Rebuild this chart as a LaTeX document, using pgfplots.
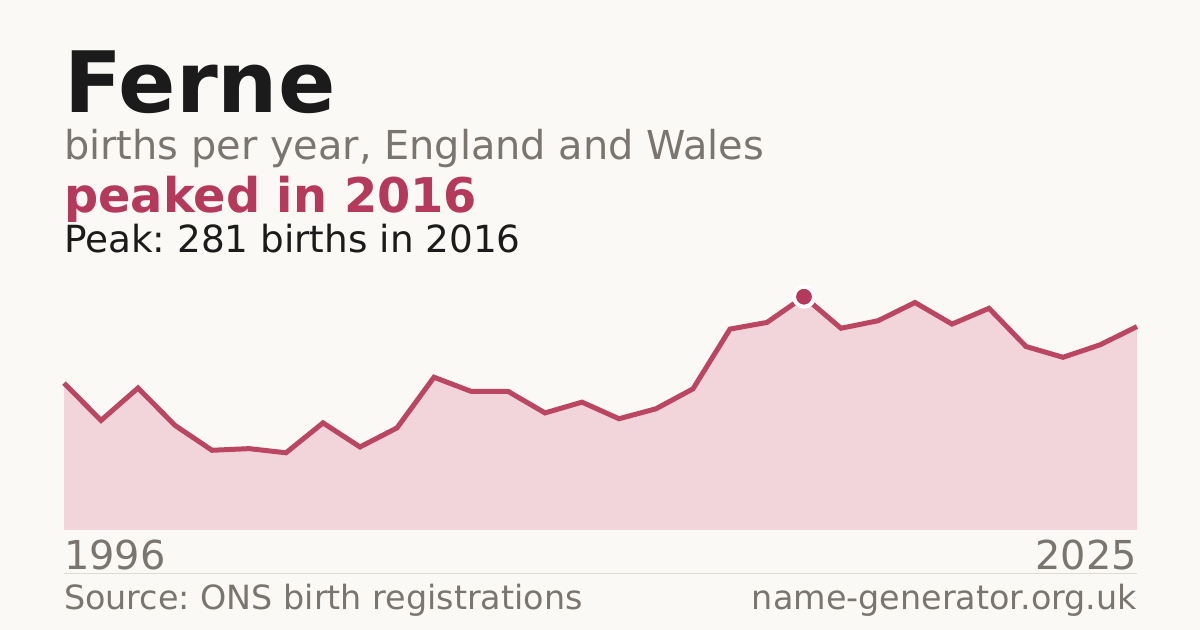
\documentclass[border=0pt]{standalone}
\usepackage{fontspec}
\setmainfont{DejaVu Sans}
\usepackage{pgfplots}
\pgfplotsset{compat=1.18}
\frenchspacing

\definecolor{bg}{HTML}{FAF9F5}
\definecolor{ink}{HTML}{1B1B1B}
\definecolor{muted}{HTML}{7A756E}
\definecolor{accent}{HTML}{B4395A}
\definecolor{areafill}{HTML}{F2D5DB}
\definecolor{linecol}{HTML}{BA4662}
\definecolor{rule}{HTML}{DEDBD5}

\begin{document}
\begin{tikzpicture}
\fill[bg] (0,0) rectangle (1200bp,630bp);

\begin{axis}[
    at={(64bp,100bp)}, anchor=south west,
    scale only axis,
    width=1073bp, height=233.3bp,
    xmin=1996, xmax=2025,
    ymin=0, ymax=281,
    hide axis,
    clip=false,
]
% births per year
\addplot[fill=areafill, draw=none] coordinates {
    (1996,177) (1997,132) (1998,171) (1999,126) (2000,96)
    (2001,98) (2002,93) (2003,129) (2004,100) (2005,123)
    (2006,184) (2007,167) (2008,167) (2009,141) (2010,154)
    (2011,134) (2012,146) (2013,170) (2014,242) (2015,250)
    (2016,281) (2017,243) (2018,252) (2019,274) (2020,248)
    (2021,267) (2022,221) (2023,208) (2024,223) (2025,245)
} \closedcycle;
\addplot[linecol, line width=5bp] coordinates {
    (1996,177) (1997,132) (1998,171) (1999,126) (2000,96)
    (2001,98) (2002,93) (2003,129) (2004,100) (2005,123)
    (2006,184) (2007,167) (2008,167) (2009,141) (2010,154)
    (2011,134) (2012,146) (2013,170) (2014,242) (2015,250)
    (2016,281) (2017,243) (2018,252) (2019,274) (2020,248)
    (2021,267) (2022,221) (2023,208) (2024,223) (2025,245)
};
% peak marker
\addplot[only marks, mark=*, mark size=10bp,
    mark options={fill=accent, draw=white, line width=4bp}]
    coordinates {(2016,281)};
\end{axis}

\node[anchor=base west, inner sep=0, text=ink,
      font=\fontsize{85}{85}\selectfont\bfseries] at (64bp,517bp) {Ferne};
\node[anchor=base west, inner sep=0, text=muted,
      font=\fontsize{40}{40}\selectfont] at (64bp,470bp)
      {births per year, England and Wales};
\node[anchor=base west, inner sep=0, text=accent,
      font=\fontsize{48}{48}\selectfont\bfseries] at (64bp,417bp)
      {peaked in 2016};
\node[anchor=base west, inner sep=0, text=ink,
      font=\fontsize{37.5}{37.5}\selectfont] at (64bp,377bp)
      {Peak: 281 births in 2016};

\node[anchor=base west, inner sep=0, text=muted,
      font=\fontsize{40}{40}\selectfont] at (64bp,60bp) {1996};
\node[anchor=base east, inner sep=0, text=muted,
      font=\fontsize{40}{40}\selectfont] at (1137bp,60bp) {2025};

\draw[rule, line width=1bp] (64bp,56bp) -- (1137bp,56bp);

\node[anchor=base west, inner sep=0, text=muted,
      font=\fontsize{33.5}{33.5}\selectfont] at (64bp,21bp)
      {Source: ONS birth registrations};
\node[anchor=base east, inner sep=0, text=muted,
      font=\fontsize{33.5}{33.5}\selectfont] at (1137bp,21bp)
      {name-generator.org.uk};
\end{tikzpicture}
\end{document}
